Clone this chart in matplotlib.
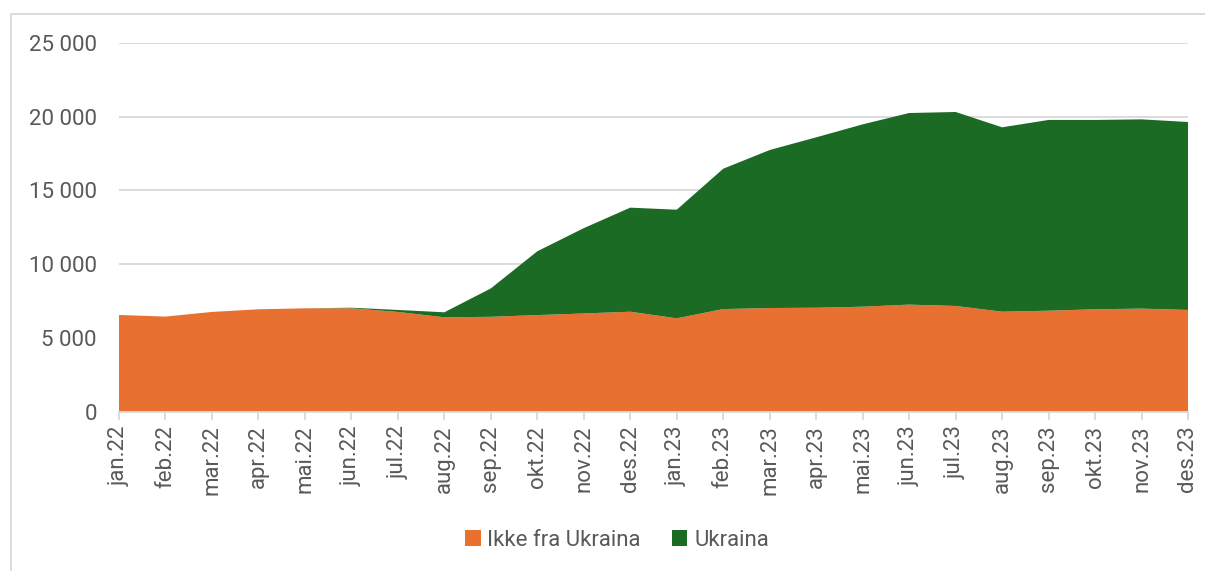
import matplotlib.pyplot as plt
import numpy as np
from matplotlib.lines import Line2D
from matplotlib.ticker import FuncFormatter

plt.rcParams['font.family'] = ['Roboto', 'DejaVu Sans']

months = ["jan.22", "feb.22", "mar.22", "apr.22", "mai.22", "jun.22", "jul.22", "aug.22",
          "sep.22", "okt.22", "nov.22", "des.22", "jan.23", "feb.23", "mar.23", "apr.23",
          "mai.23", "jun.23", "jul.23", "aug.23", "sep.23", "okt.23", "nov.23", "des.23"]
ikke_ukraina = [6550, 6440, 6755, 6935, 7000, 7000, 6755, 6390,
                6425, 6540, 6650, 6770, 6320, 6950, 7020, 7040,
                7110, 7250, 7160, 6770, 6840, 6935, 6980, 6890]
ukraina = [0, 0, 0, 0, 0, 40, 135, 340,
           1925, 4330, 5790, 7060, 7370, 9520, 10720, 11560,
           12370, 13000, 13160, 12510, 12940, 12845, 12840, 12750]

orange = "#E87132"
green = "#1B6B24"
grey = "#595959"

fig = plt.figure(figsize=(12.05, 5.71), dpi=100)
ax = fig.add_axes([119/1205, 1 - 411.5/571, (1188-119)/1205, (411.5-43)/571])

x = np.arange(len(months))
ax.stackplot(x, ikke_ukraina, ukraina, colors=[orange, green],
             labels=["Ikke fra Ukraina", "Ukraina"], linewidth=0)

ax.set_xlim(0, len(months) - 1)
ax.set_ylim(0, 25000)
ax.set_yticks(np.arange(0, 25001, 5000))
ax.yaxis.set_major_formatter(FuncFormatter(lambda v, p: "{:,.0f}".format(v).replace(",", " ")))
ax.set_xticks(x)
ax.set_xticklabels(months, rotation=90)

ax.grid(axis='y', color="#D9D9D9", linewidth=1.3)
ax.set_axisbelow(True)
for s in ["top", "right", "left"]:
    ax.spines[s].set_visible(False)
ax.spines["bottom"].set_color("#D9D9D9")
ax.spines["bottom"].set_linewidth(1.3)
ax.tick_params(axis='y', length=0, pad=16, labelsize=16, labelcolor=grey)
ax.tick_params(axis='x', length=6, width=1.3, color="#D9D9D9", pad=4, labelsize=16, labelcolor=grey)

leg = fig.legend(loc='center', bbox_to_anchor=(617/1205, 1 - 540/571), ncol=2, frameon=False,
                 fontsize=16, handlelength=0.7, handleheight=0.7, handletextpad=0.3,
                 columnspacing=1.4)
for t in leg.get_texts():
    t.set_color(grey)

# chart frame (left and top edges)
fig.add_artist(Line2D([11/1205, 11/1205, 1.0], [0, 1 - 14/571, 1 - 14/571],
                      transform=fig.transFigure, color="#D9D9D9", linewidth=1.3))

fig.savefig("out.png", dpi=100)
